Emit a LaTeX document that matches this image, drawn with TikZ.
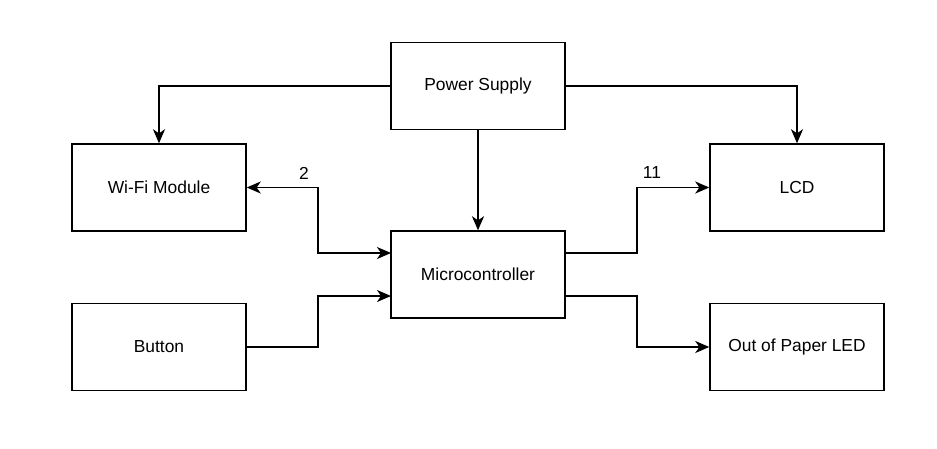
\documentclass[tikz,border=0pt]{standalone}
\usepackage{fontspec}
\setmainfont{Liberation Sans}
\usetikzlibrary{arrows.meta}
\begin{document}
\begin{tikzpicture}[x=1pt,y=-1pt,
  blk/.style={draw=black,line width=1.45pt,minimum width=174pt,minimum height=87pt,inner sep=0pt,font=\fontsize{17.4}{20}\selectfont},
  conn/.style={draw=black,line width=1.45pt,-{Stealth[length=14pt,width=12pt,inset=4pt]}},
  bconn/.style={draw=black,line width=1.45pt,{Stealth[length=14pt,width=12pt,inset=4pt]}-{Stealth[length=14pt,width=12pt,inset=4pt]}},
  lbl/.style={font=\fontsize{17.4}{20}\selectfont,inner sep=0pt}]
\useasboundingbox (0,0) rectangle (937,448);
\node[blk] (ps) at (478,86) {Power Supply};
\node[blk] (wifi) at (159,187.5) {Wi-Fi Module};
\node[blk] (lcd) at (797,187.5) {LCD};
\node[blk] (mc) at (478,274.5) {Microcontroller};
\node[blk] (btn) at (159,347) {Button};
\node[blk] (led) at (797,347) {Out of Paper LED};
\coordinate (mcw1) at (391,253);
\coordinate (mcw2) at (391,296);
\coordinate (mce1) at (565,253);
\coordinate (mce2) at (565,296);
\draw[conn] (ps.west) -| (wifi.north);
\draw[conn] (ps.east) -| (lcd.north);
\draw[conn] (ps.south) -- (mc.north);
\draw[bconn] (wifi.east) -- (318,187.5) -- (318,253) -- (mcw1);
\draw[conn] (mce1) -- (637,253) -- (637,187.5) -- (lcd.west);
\draw[conn] (btn.east) -- (318,347) -- (318,296) -- (mcw2);
\draw[conn] (mce2) -- (637,296) -- (637,347) -- (led.west);
\node[lbl] (l2) at (304,173) {2};
\node[lbl] (l11) at (652,173) {11};
\end{tikzpicture}
\end{document}
